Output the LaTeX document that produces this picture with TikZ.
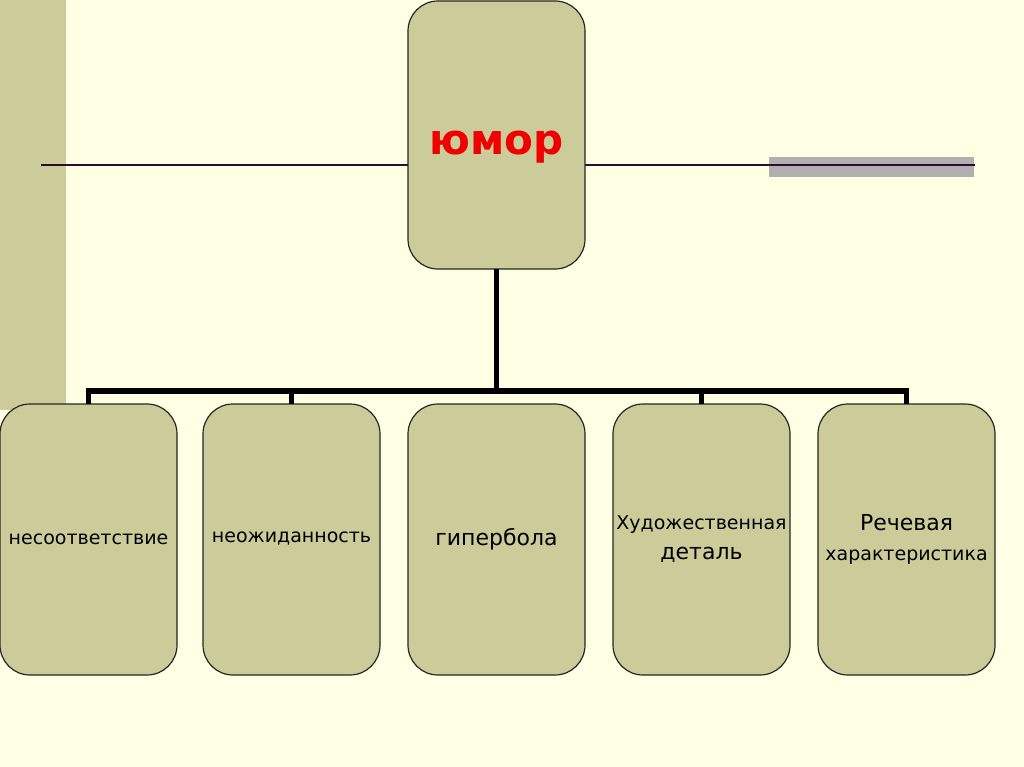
\documentclass[tikz,border=0pt]{standalone}
\usepackage{fontspec}
\setmainfont{DejaVu Sans}
\definecolor{bg}{HTML}{FFFFE3}
\definecolor{olive}{HTML}{CCCC9A}
\definecolor{linec}{HTML}{330A2A}
\definecolor{grayband}{HTML}{B0B0B0}
\definecolor{titlered}{HTML}{F00000}
\begin{document}
\begin{tikzpicture}[x=1pt,y=-1pt,
  box/.style={draw=black!85, line width=1.2pt, fill=olive, rounded corners=30pt,
    minimum width=177pt, minimum height=271pt, inner sep=0pt, outer sep=0pt, align=center, anchor=north west},
  small/.style={font=\fontsize{19}{30}\selectfont},
  big/.style={font=\fontsize{22}{30}\selectfont},
  conn/.style={line width=5.5pt, black, line join=miter}]
\fill[bg] (0,0) rectangle (1024,767);
\useasboundingbox (0,0) rectangle (1024,767);
\fill[olive] (0,0) rectangle (66,410);
\fill[grayband] (769,157) rectangle (974,177);
\coordinate (la) at (41,165);
\coordinate (lb) at (975,165);
\draw[linec, line width=2pt] (la) -- (lb);
\node[box, minimum height=268pt] (top) at (408,1) {};
\node[font=\fontsize{42}{44}\selectfont\bfseries, text=titlered, inner sep=0pt] (toptext) at ([yshift=-12pt]top.center) {юмор};
\coordinate (bus) at (top.south |- {(0,391)});
\node[box, small] (b1) at (0,404) {несоответствие};
\node[box, small] (b2) at (203,404) {неожиданность\vphantom{у}};
\node[box, big] (b3) at (408,404) {гипербола};
\node[box, small] (b4) at (613,404) {Художественная\\{\fontsize{22}{30}\selectfont деталь}};
\node[box, big] (b5) at (818,404) {Речевая\\{\fontsize{19}{30}\selectfont характеристика}};
\draw[conn] (top.south) -- (bus);
\draw[conn] (b1.north) -- (b1.north |- bus) -- (b5.north |- bus) -- (b5.north);
\draw[conn] (b2.north) -- (b2.north |- bus);
\draw[conn] (b4.north) -- (b4.north |- bus);
\end{tikzpicture}
\end{document}
